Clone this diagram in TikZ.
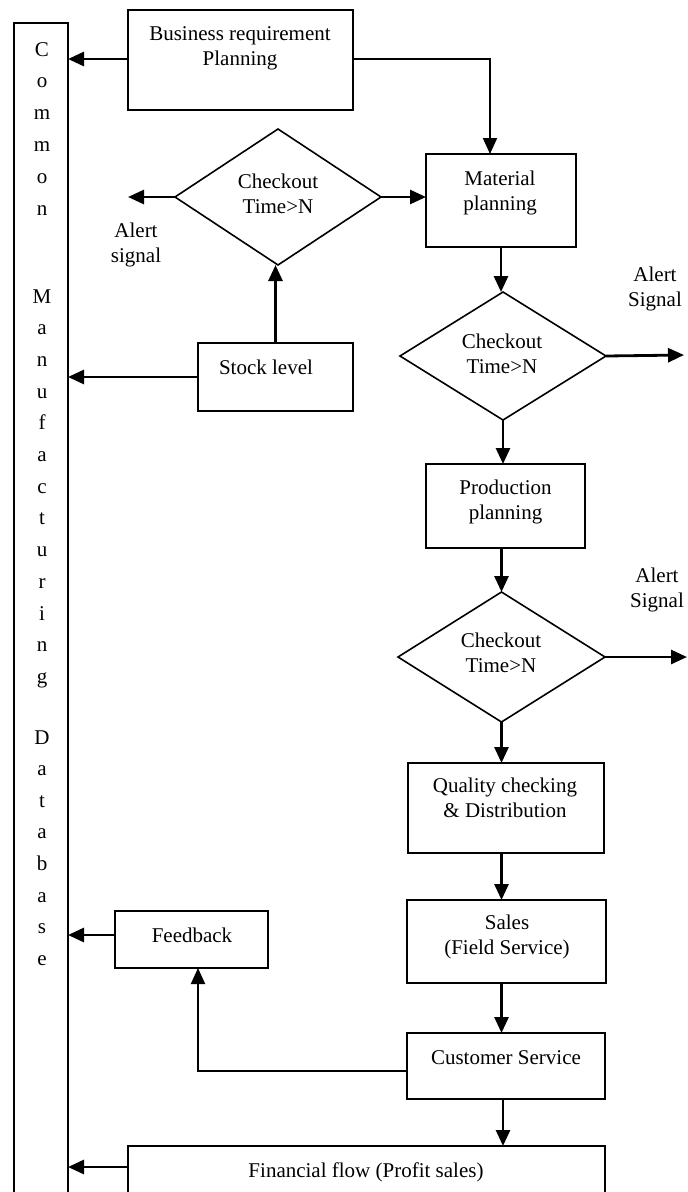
\documentclass[tikz,border=0pt]{standalone}
\usepackage{fontspec}
\setmainfont{Liberation Serif}
\usetikzlibrary{arrows.meta,shapes.geometric,calc}
\begin{document}
\begin{tikzpicture}[x=1pt,y=-1pt,
  every node/.style={font=\fontsize{21}{25}\selectfont, inner sep=0pt, outer sep=0pt},
  boxshape/.style={draw, line width=1.8pt, rectangle},
  dia/.style={draw, diamond, line width=1.6pt, minimum width=206pt, minimum height=130pt},
  txt/.style={align=center},
  arr/.style={line width=2.8pt, -{Triangle[length=16pt,width=14pt]}},
  thinarr/.style={line width=2pt, -{Triangle[length=16pt,width=14pt]}},
  letter/.style={anchor=base}]
\useasboundingbox (0,0) rectangle (688,1192);
\fill[white] (0,0) rectangle (688,1192);
\clip (0,0) rectangle (688,1192);

% database column
\node[boxshape, minimum width=54pt, minimum height=1220pt, anchor=north west] (db) at (14,23) {};
\foreach \ch [count=\i from 0] in {C,o,m,m,o,n}
  \node[letter] (c\i) at (42,{56+31.8*\i}) {\ch};
\foreach \ch [count=\i from 0] in {M,a,n,u,f,a,c,t,u,r,i,n,g}
  \node[letter] (m\i) at (42,{303+31.7*\i}) {\ch};
\foreach \ch [count=\i from 0] in {D,a,t,a,b,a,s,e}
  \node[letter] (b\i) at (42,{744+31.6*\i}) {\ch};

% boxes
\node[boxshape, minimum width=225pt, minimum height=100pt] (biz) at (240.5,60) {};
\node[txt] (bizt) at (240,48) {Business requirement\\Planning};

\node[boxshape, minimum width=150pt, minimum height=93pt] (mat) at (501,200.5) {};
\node[txt] (matt) at (500,192.6) {Material\\planning};

\node[dia, minimum height=136pt] (d1) at (278,197) {};
\node[txt] (d1t) at (278,193.4) {Checkout\\Time>N};
\node[txt] (al1) at (136,245) {Alert\\signal};

\node[boxshape, minimum width=155pt, minimum height=68pt] (stock) at (275.5,377) {};
\node (stockt) at (266,366.9) {Stock level};

\node[dia, minimum height=128pt] (d2) at (503,356) {};
\node[txt] (d2t) at (502,354) {Checkout\\Time>N};
\node[txt] (al2) at (655,288.7) {Alert\\Signal};

\node[boxshape, minimum width=159pt, minimum height=84pt] (prod) at (505.5,506) {};
\node[txt] (prodt) at (505.5,501.7) {Production\\planning};

\node[dia, minimum width=207pt] (d3) at (501.5,657) {};
\node[txt] (d3t) at (501,653) {Checkout\\Time>N};
\node[txt] (al3) at (657,589.6) {Alert\\Signal};

\node[boxshape, minimum width=196pt, minimum height=90pt] (qual) at (506,808) {};
\node[txt] (qualt) at (505,797.9) {Quality checking\\\& Distribution};

\node[boxshape, minimum width=199pt, minimum height=83pt] (sales) at (506.5,941.5) {};
\node[txt] (salest) at (507,937.3) {Sales\\(Field Service)};

\node[boxshape, minimum width=153pt, minimum height=57pt] (fb) at (191.5,939.5) {};
\node (fbt) at (192,935) {Feedback};

\node[boxshape, minimum width=198pt, minimum height=66pt] (cust) at (506,1066) {};
\node (custt) at (506,1058) {Customer Service};

\node[boxshape, minimum width=477pt, minimum height=90pt, anchor=north west] (fin) at (128,1146) {};
\node (fint) at (366,1172.8) {Financial flow (Profit sales)};

% helper coordinates
\coordinate (bizy) at (0,59);
\coordinate (mtop) at (490,154);
\coordinate (al1tip) at (128,197);
\coordinate (al2tip) at (684,355);
\coordinate (al3tip) at (687,657);
\coordinate (fbline) at (198,1071);
\coordinate (finy) at (0,1167);

% connectors
\draw[arr] (biz.west |- bizy) -- (db.east |- bizy);
\draw[thinarr] (biz.east |- bizy) -| (mtop);
\draw[arr] (d1.east) -- (d1.east -| mat.west);
\draw[arr] (d1.west) -- (al1tip);
\draw[arr] (stock.north) -- (stock.north |- d1.south);
\draw[arr] (stock.west) -- (stock.west -| db.east);
\draw[arr] (mat.south) -- (mat.south |- d2.north);
\draw[arr] (d2.east) -- (al2tip);
\draw[arr] (d2.south) -- (d2.south |- prod.north);
\draw[arr] (prod.south -| d3.north) -- (d3.north);
\draw[arr] (d3.east) -- (al3tip);
\draw[arr] (d3.south) -- (d3.south |- qual.north);
\draw[arr] (qual.south -| d3.south) -- (sales.north -| d3.south);
\draw[arr] (sales.south -| d3.south) -- (cust.north -| d3.south);
\draw[thinarr] (fbline -| cust.west) -- (fbline) -- (fb.south -| fbline);
\draw[arr] (fb.west |- fbt) -- (db.east |- fbt);
\draw[arr] (cust.south -| d2.south) -- (fin.north -| d2.south);
\draw[arr] (fin.west |- finy) -- (db.east |- finy);
\end{tikzpicture}
\end{document}
